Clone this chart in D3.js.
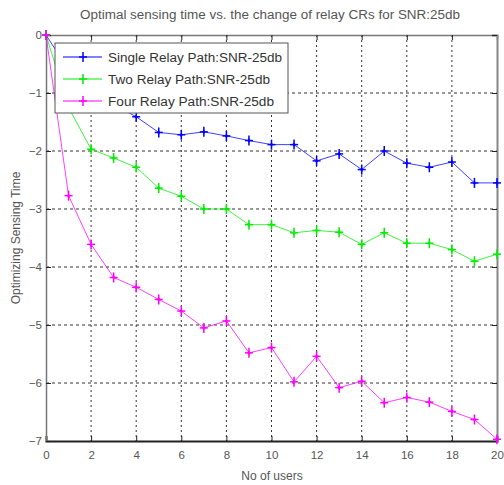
<!DOCTYPE html>
<html><head><meta charset="utf-8">
<script src="https://cdn.jsdelivr.net/npm/d3@7"></script>
<style>body{margin:0;background:#fff}svg{display:block}text{font-family:"Liberation Sans",Arial,sans-serif}</style>
</head><body><svg id="c" width="504" height="485"></svg>
<script>
const users = d3.range(0, 21);
const singleRelay = [0,-0.6,-0.95,-1.2,-1.41,-1.68,-1.72,-1.67,-1.74,-1.82,-1.89,-1.89,-2.17,-2.05,-2.32,-2.0,-2.21,-2.28,-2.19,-2.55,-2.55];
const twoRelay = [0,-1.25,-1.97,-2.12,-2.28,-2.64,-2.78,-3.0,-3.0,-3.27,-3.27,-3.41,-3.37,-3.4,-3.61,-3.41,-3.59,-3.59,-3.7,-3.9,-3.78];
const fourRelay = [0,-2.77,-3.61,-4.18,-4.35,-4.56,-4.76,-5.05,-4.93,-5.48,-5.39,-5.98,-5.54,-6.08,-5.97,-6.34,-6.25,-6.33,-6.49,-6.63,-6.97];
const seriesNames = ["Single Relay Path:SNR-25db","Two Relay Path:SNR-25db","Four Relay Path:SNR-25db"];
const seriesColors = ["#0000ff","#00ee00","#ff00ff"];
const xTicks = [0,2,4,6,8,10,12,14,16,18,20];
const yTicks = [0,-1,-2,-3,-4,-5,-6,-7];
const title = "Optimal sensing time vs. the change of relay CRs for SNR:25db";
const xLabel = "No of users";
const yLabel = "Optimizing Sensing Time";

const svg = d3.select("#c");
const L=46, R=497, T=35, B=441;
const x = d3.scaleLinear().domain([0,20]).range([L,R]);
const y = d3.scaleLinear().domain([-7,0]).range([B,T]);

// grid
const g = svg.append("g");
g.selectAll(".gx").data(xTicks.filter(d=>d>0&&d<20)).enter().append("line")
 .attr("x1",d=>x(d)).attr("x2",d=>x(d)).attr("y1",T).attr("y2",B)
 .attr("stroke","#333").attr("stroke-width",1).attr("stroke-dasharray","2,3");
g.selectAll(".gy").data(yTicks.filter(d=>d<0&&d>-7)).enter().append("line")
 .attr("x1",L).attr("x2",R).attr("y1",d=>y(d)).attr("y2",d=>y(d))
 .attr("stroke","#333").attr("stroke-width",1).attr("stroke-dasharray","3,3");

// axes
const xa = svg.append("g").attr("transform",`translate(0,${B})`)
 .call(d3.axisBottom(x).tickValues(xTicks).tickSize(-5).tickPadding(10).tickFormat(d3.format("d")));
const xt = svg.append("g").attr("transform",`translate(0,${T})`)
 .call(d3.axisTop(x).tickValues(xTicks).tickSize(-5).tickFormat(""));
const ya = svg.append("g").attr("transform",`translate(${L},0)`)
 .call(d3.axisLeft(y).tickValues(yTicks).tickSize(-5).tickPadding(4).tickFormat(d3.format("d")));
const yr = svg.append("g").attr("transform",`translate(${R},0)`)
 .call(d3.axisRight(y).tickValues(yTicks).tickSize(-5).tickFormat(""));
[xa,xt,ya,yr].forEach(a=>{
  a.select(".domain").attr("stroke","#777").attr("stroke-width",1.5);
  a.selectAll(".tick line").attr("stroke","#222");
  a.selectAll("text").attr("fill","#555").style("font-size","11.5px").style("font-family","'Liberation Sans',Arial,sans-serif");
});
xa.select(".domain").attr("stroke","#222").attr("stroke-width",2);
yr.select(".domain").attr("stroke","#888").attr("stroke-width",2);

// series
const all = [singleRelay, twoRelay, fourRelay];
const line = d3.line().x((d,i)=>x(users[i])).y(d=>y(d));
const star = d3.symbol().type(d3.symbolCross).size(30);
all.forEach((vals,k)=>{
  svg.append("path").datum(vals).attr("d",line).attr("fill","none")
    .attr("stroke",seriesColors[k]).attr("stroke-width",1).attr("stroke-opacity",0.75);
  svg.selectAll(".m"+k).data(vals).enter().append("g")
    .attr("transform",(d,i)=>`translate(${x(users[i])},${y(d)})`)
    .each(function(){
      const s=d3.select(this);
      s.append("line").attr("x1",-4).attr("x2",4).attr("stroke",seriesColors[k]).attr("stroke-width",1.5);
      s.append("line").attr("y1",-5).attr("y2",5).attr("stroke",seriesColors[k]).attr("stroke-width",1.5);
      s.append("path").attr("d",d3.symbol().type(d3.symbolDiamond).size(8)()).attr("fill",seriesColors[k]);
    });
});

// legend
const lg = svg.append("g");
lg.append("rect").attr("x",55).attr("y",43).attr("width",233).attr("height",70)
 .attr("fill","#fff").attr("stroke","#555").attr("stroke-width",1);
seriesNames.forEach((n,k)=>{
  const yy = [57,79,101][k];
  lg.append("line").attr("x1",63).attr("x2",102).attr("y1",yy).attr("y2",yy)
   .attr("stroke",seriesColors[k]).attr("stroke-width",1.2);
  const m = lg.append("g").attr("transform",`translate(83,${yy})`);
  m.append("line").attr("x1",-4).attr("x2",4).attr("stroke",seriesColors[k]).attr("stroke-width",1.5);
  m.append("line").attr("y1",-5).attr("y2",5).attr("stroke",seriesColors[k]).attr("stroke-width",1.5);
  lg.append("text").attr("x",108).attr("y",yy+4.5).text(n)
   .attr("fill","#333").style("font-size","12.5px").attr("textLength",[174,162,166][k]).attr("lengthAdjust","spacingAndGlyphs");
});

// title and labels
svg.append("text").attr("x",270).attr("y",19).attr("text-anchor","middle").text(title)
 .attr("fill","#555").style("font-size","12px").attr("textLength",380).attr("lengthAdjust","spacingAndGlyphs");
svg.append("text").attr("x",272).attr("y",480).attr("text-anchor","middle").text(xLabel)
 .attr("fill","#555").style("font-size","12px");
svg.append("text").attr("transform","translate(20,238) rotate(-90)").attr("text-anchor","middle").text(yLabel)
 .attr("fill","#555").style("font-size","12px");
</script></body></html>
